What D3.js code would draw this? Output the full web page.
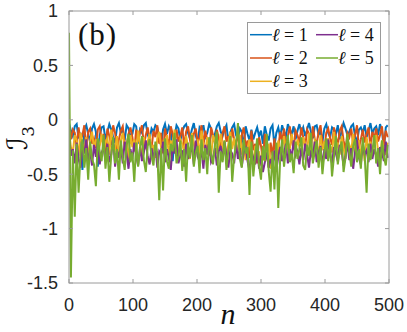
<!DOCTYPE html>
<html>
<head>
<meta charset="utf-8">
<script src="https://cdn.jsdelivr.net/npm/d3@7"></script>
<style>
  html, body { margin: 0; padding: 0; background: #fff; }
  svg { display: block; }
  .tick-label { font-family: "Liberation Sans", Arial, sans-serif; font-size: 18px; fill: #262626; }
</style>
</head>
<body>
<div id="chart"></div>
<script>
/* ---------------- data (sampled every 3rd step n) ---------------- */
const nStep = 3;
const seriesNames = ['1', '2', '3', '4', '5'];
const seriesColors = ['#0072BD', '#D95319', '#EDB120', '#7E2F8E', '#77AC30'];
const xTicks = [0, 100, 200, 300, 400, 500];
const yTicks = [-1.5, -1, -0.5, 0, 0.5, 1];

const l1 = [
  -.03,-.10,-.15,-.06,-.04,-.17,-.12,-.46,-.09,-.05,-.13,-.20,-.08,-.04,-.11,-.43,-.14,-.07,-.06,-.18,
  -.11,-.04,-.09,-.16,-.21,-.07,-.03,-.12,-.10,-.19,-.05,-.08,-.15,-.13,-.04,-.06,-.22,-.09,-.12,-.05,
  -.03,-.14,-.18,-.08,-.11,-.05,-.07,-.16,-.24,-.09,-.04,-.13,-.06,-.10,-.38,-.15,-.05,-.08,-.19,-.11,
  -.06,-.04,-.12,-.17,-.09,-.03,-.14,-.21,-.07,-.10,-.05,-.16,-.12,-.04,-.08,-.18,-.13,-.06,-.03,-.11,
  -.15,-.09,-.05,-.20,-.12,-.07,-.04,-.14,-.17,-.08,-.11,-.25,-.06,-.13,-.19,-.09,-.18,-.12,-.07,-.15,
  -.10,-.22,-.06,-.14,-.19,-.08,-.05,-.24,-.12,-.07,-.16,-.05,-.11,-.15,-.04,-.09,-.13,-.06,-.18,-.10,
  -.04,-.12,-.07,-.15,-.09,-.03,-.11,-.17,-.06,-.05,-.14,-.10,-.20,-.08,-.04,-.12,-.16,-.07,-.09,-.13,
  -.05,-.18,-.10,-.03,-.08,-.14,-.11,-.06,-.04,-.15,-.21,-.09,-.07,-.12,-.05,-.16,-.10,-.03,-.13,-.08,
  -.06,-.14,-.04,-.10,-.27,-.07,-.05
];
const l2 = [
  -.06,-.18,-.09,-.12,-.24,-.07,-.20,-.14,-.05,-.28,-.11,-.08,-.22,-.17,-.26,-.09,-.06,-.19,-.13,-.30,
  -.08,-.15,-.23,-.05,-.12,-.27,-.18,-.10,-.06,-.21,-.25,-.13,-.07,-.16,-.29,-.09,-.20,-.11,-.05,-.24,
  -.14,-.07,-.19,-.26,-.10,-.16,-.05,-.22,-.12,-.31,-.08,-.17,-.23,-.06,-.13,-.27,-.09,-.20,-.15,-.07,
  -.25,-.11,-.06,-.18,-.29,-.13,-.08,-.21,-.16,-.05,-.24,-.10,-.19,-.33,-.07,-.14,-.22,-.09,-.17,-.27,
  -.12,-.06,-.20,-.15,-.26,-.08,-.18,-.23,-.11,-.30,-.14,-.07,-.25,-.19,-.35,-.10,-.28,-.22,-.40,-.16,
  -.24,-.37,-.13,-.30,-.44,-.21,-.33,-.17,-.41,-.26,-.11,-.20,-.08,-.24,-.15,-.06,-.19,-.27,-.10,-.14,
  -.21,-.07,-.16,-.25,-.09,-.13,-.28,-.06,-.18,-.22,-.11,-.05,-.20,-.26,-.12,-.08,-.17,-.23,-.07,-.15,
  -.24,-.10,-.06,-.19,-.28,-.12,-.16,-.08,-.22,-.14,-.05,-.26,-.18,-.09,-.21,-.13,-.07,-.25,-.11,-.17,
  -.08,-.20,-.14,-.06,-.23,-.10,-.16
];
const l3 = [
  -.10,-.25,-.30,-.14,-.19,-.33,-.12,-.22,-.28,-.16,-.35,-.20,-.11,-.26,-.18,-.31,-.24,-.13,-.29,-.21,
  -.17,-.32,-.09,-.23,-.27,-.15,-.34,-.19,-.12,-.28,-.22,-.36,-.14,-.25,-.18,-.30,-.10,-.24,-.33,-.16,
  -.27,-.20,-.13,-.31,-.23,-.35,-.17,-.11,-.26,-.21,-.29,-.14,-.32,-.19,-.24,-.09,-.28,-.34,-.18,-.22,
  -.30,-.15,-.25,-.36,-.12,-.21,-.27,-.18,-.33,-.10,-.23,-.29,-.16,-.26,-.35,-.14,-.20,-.31,-.24,-.13,
  -.28,-.19,-.34,-.22,-.11,-.27,-.17,-.30,-.25,-.14,-.32,-.21,-.37,-.26,-.18,-.33,-.40,-.24,-.35,-.29,
  -.42,-.27,-.38,-.31,-.22,-.45,-.34,-.28,-.39,-.19,-.30,-.25,-.15,-.32,-.21,-.27,-.13,-.24,-.30,-.18,
  -.25,-.33,-.16,-.22,-.29,-.12,-.26,-.35,-.19,-.23,-.31,-.14,-.28,-.20,-.34,-.17,-.24,-.30,-.11,-.27,
  -.21,-.32,-.15,-.26,-.36,-.18,-.23,-.29,-.13,-.31,-.25,-.19,-.34,-.22,-.38,-.16,-.27,-.20,-.30,-.24,
  -.14,-.29,-.35,-.19,-.26,-.32,-.21
];
const l4 = [
  -.12,-.33,-.27,-.40,-.21,-.36,-.44,-.25,-.31,-.18,-.38,-.29,-.42,-.23,-.34,-.19,-.41,-.30,-.26,-.37,
  -.22,-.39,-.32,-.17,-.43,-.28,-.35,-.24,-.40,-.20,-.31,-.45,-.27,-.36,-.21,-.33,-.42,-.25,-.38,-.30,
  -.19,-.34,-.41,-.26,-.37,-.23,-.44,-.29,-.32,-.20,-.39,-.27,-.35,-.46,-.24,-.31,-.18,-.40,-.33,-.28,
  -.43,-.22,-.36,-.30,-.25,-.41,-.19,-.34,-.38,-.27,-.45,-.23,-.32,-.21,-.39,-.35,-.26,-.42,-.29,-.24,
  -.37,-.20,-.33,-.44,-.28,-.31,-.40,-.22,-.36,-.26,-.43,-.30,-.24,-.38,-.47,-.29,-.35,-.41,-.27,-.45,
  -.33,-.48,-.39,-.30,-.44,-.36,-.42,-.28,-.46,-.34,-.25,-.38,-.31,-.22,-.40,-.27,-.35,-.19,-.33,-.29,
  -.41,-.26,-.37,-.22,-.32,-.44,-.28,-.35,-.20,-.39,-.30,-.24,-.43,-.27,-.36,-.18,-.33,-.40,-.25,-.31,
  -.38,-.23,-.29,-.42,-.34,-.21,-.37,-.26,-.45,-.30,-.19,-.35,-.41,-.24,-.32,-.28,-.39,-.22,-.36,-.27,
  -.33,-.43,-.25,-.30,-.38,-.20,-.35
];
const l5 = [
   .80,-1.45,-.28,-.89,-.22,-.67,-.31,-.18,-.44,-.26,-.55,-.20,-.36,-.41,-.61,-.17,-.29,-.38,-.14,-.45,
  -.25,-.57,-.33,-.16,-.40,-.27,-.55,-.19,-.35,-.46,-.23,-.13,-.39,-.30,-.57,-.21,-.43,-.26,-.15,-.37,
  -.48,-.24,-.18,-.34,-.42,-.20,-.31,-.74,-.26,-.65,-.17,-.38,-.45,-.22,-.29,-.12,-.40,-.33,-.19,-.47,
  -.27,-.57,-.21,-.35,-.14,-.43,-.30,-.24,-.49,-.18,-.37,-.26,-.50,-.16,-.32,-.41,-.23,-.11,-.67,-.29,
  -.39,-.19,-.46,-.28,-.15,-.57,-.34,-.22,-.03,-.36,-.44,-.18,-.31,-.25,-.69,-.20,-.52,-.33,-.17,-.42,
  -.55,-.24,-.38,-.13,-.47,-.66,-.29,-.64,-.21,-.81,-.35,-.18,-.43,-.26,-.14,-.39,-.31,-.49,-.20,-.36,
  -.27,-.16,-.42,-.46,-.23,-.33,-.12,-.40,-.29,-.19,-.44,-.25,-.50,-.31,-.17,-.38,-.22,-.52,-.34,-.15,
  -.41,-.28,-.20,-.48,-.35,-.13,-.30,-.43,-.24,-.18,-.39,-.27,-.45,-.16,-.33,-.67,-.22,-.37,-.29,-.14,
  -.40,-.26,-.50,-.19,-.34,-.42,-.23
];
const seriesValues = [l1, l2, l3, l4, l5];

/* ---------------- layout ---------------- */
const W = 407, H = 332;
const m = { left: 69, top: 11, right: 18, bottom: 49 };
const iw = W - m.left - m.right, ih = H - m.top - m.bottom;
const axisCol = '#9a9a9a';

const svg = d3.select('#chart').append('svg').attr('width', W).attr('height', H);
const g = svg.append('g').attr('transform', `translate(${m.left},${m.top})`);

const x = d3.scaleLinear().domain([0, 500]).range([0, iw]);
const y = d3.scaleLinear().domain([-1.5, 1]).range([ih, 0]);

svg.append('defs').append('clipPath').attr('id', 'clip')
  .append('rect').attr('width', iw).attr('height', ih);

/* lines, drawn l=1 first so l=5 ends on top */
const line = d3.line().x((d, i) => x(i * nStep)).y(d => y(d));
const lineG = g.append('g').attr('clip-path', 'url(#clip)');
seriesValues.forEach((vals, k) => {
  lineG.append('path').datum(vals)
    .attr('d', line)
    .attr('fill', 'none')
    .attr('stroke', seriesColors[k])
    .attr('stroke-width', 2)
    .attr('stroke-linejoin', 'miter');
});

/* box + inward ticks */
g.append('rect').attr('width', iw).attr('height', ih)
  .attr('fill', 'none').attr('stroke', axisCol).attr('stroke-width', 1);

const tl = 4;
xTicks.forEach(t => {
  g.append('line').attr('x1', x(t)).attr('x2', x(t)).attr('y1', ih).attr('y2', ih - tl).attr('stroke', axisCol);
  g.append('line').attr('x1', x(t)).attr('x2', x(t)).attr('y1', 0).attr('y2', tl).attr('stroke', axisCol);
  g.append('text').attr('class', 'tick-label')
    .attr('x', x(t)).attr('y', ih + 28).attr('text-anchor', 'middle')
    .text(t);
});
yTicks.forEach(t => {
  g.append('line').attr('x1', 0).attr('x2', tl).attr('y1', y(t)).attr('y2', y(t)).attr('stroke', axisCol);
  g.append('line').attr('x1', iw).attr('x2', iw - tl).attr('y1', y(t)).attr('y2', y(t)).attr('stroke', axisCol);
  g.append('text').attr('class', 'tick-label')
    .attr('x', -11).attr('y', y(t)).attr('dy', '0.36em').attr('text-anchor', 'end')
    .text(String(t));
});

/* axis labels */
svg.append('text')
  .attr('x', m.left + iw / 2 - 1).attr('y', 324)
  .attr('text-anchor', 'middle')
  .style('font-family', '"Liberation Serif", "DejaVu Serif", serif')
  .style('font-style', 'italic').style('font-size', '30px').style('fill', '#111')
  .text('n');

const yl = svg.append('text')
  .attr('transform', 'translate(27,138) rotate(-90)')
  .attr('text-anchor', 'middle')
  .style('font-family', '"DejaVu Serif", "DejaVu Sans", serif')
  .style('font-size', '28px').style('fill', '#111');
yl.append('tspan').text('ℐ');
yl.append('tspan').attr('dy', 7).style('font-size', '17px').text('3');

/* panel tag */
svg.append('text')
  .attr('x', 78).attr('y', 45)
  .style('font-family', '"Liberation Serif", "DejaVu Serif", serif')
  .style('font-size', '31px').style('letter-spacing', '1px').style('fill', '#111')
  .text('(b)');

/* legend: two columns (1,2,3 | 4,5) */
const leg = svg.append('g');
leg.append('rect')
  .attr('x', 247.5).attr('y', 22.5).attr('width', 133).attr('height', 71)
  .attr('fill', '#fff').attr('stroke', axisCol);
const colX = [250, 316];
const rowY = [34.7, 58, 81.3];
seriesNames.forEach((name, k) => {
  const c = k < 3 ? 0 : 1, r = k < 3 ? k : k - 3;
  leg.append('line')
    .attr('x1', colX[c]).attr('x2', colX[c] + 22)
    .attr('y1', rowY[r]).attr('y2', rowY[r])
    .attr('stroke', seriesColors[k]).attr('stroke-width', 1.5);
  const t = leg.append('text')
    .attr('x', colX[c] + 22).attr('y', rowY[r] + 6)
    .style('font-family', '"Liberation Serif", "DejaVu Serif", serif')
    .style('font-size', '18px').style('fill', '#111');
  t.append('tspan').style('font-style', 'italic').text('ℓ');
  t.append('tspan').text(' = ' + name);
});
</script>
</body>
</html>
